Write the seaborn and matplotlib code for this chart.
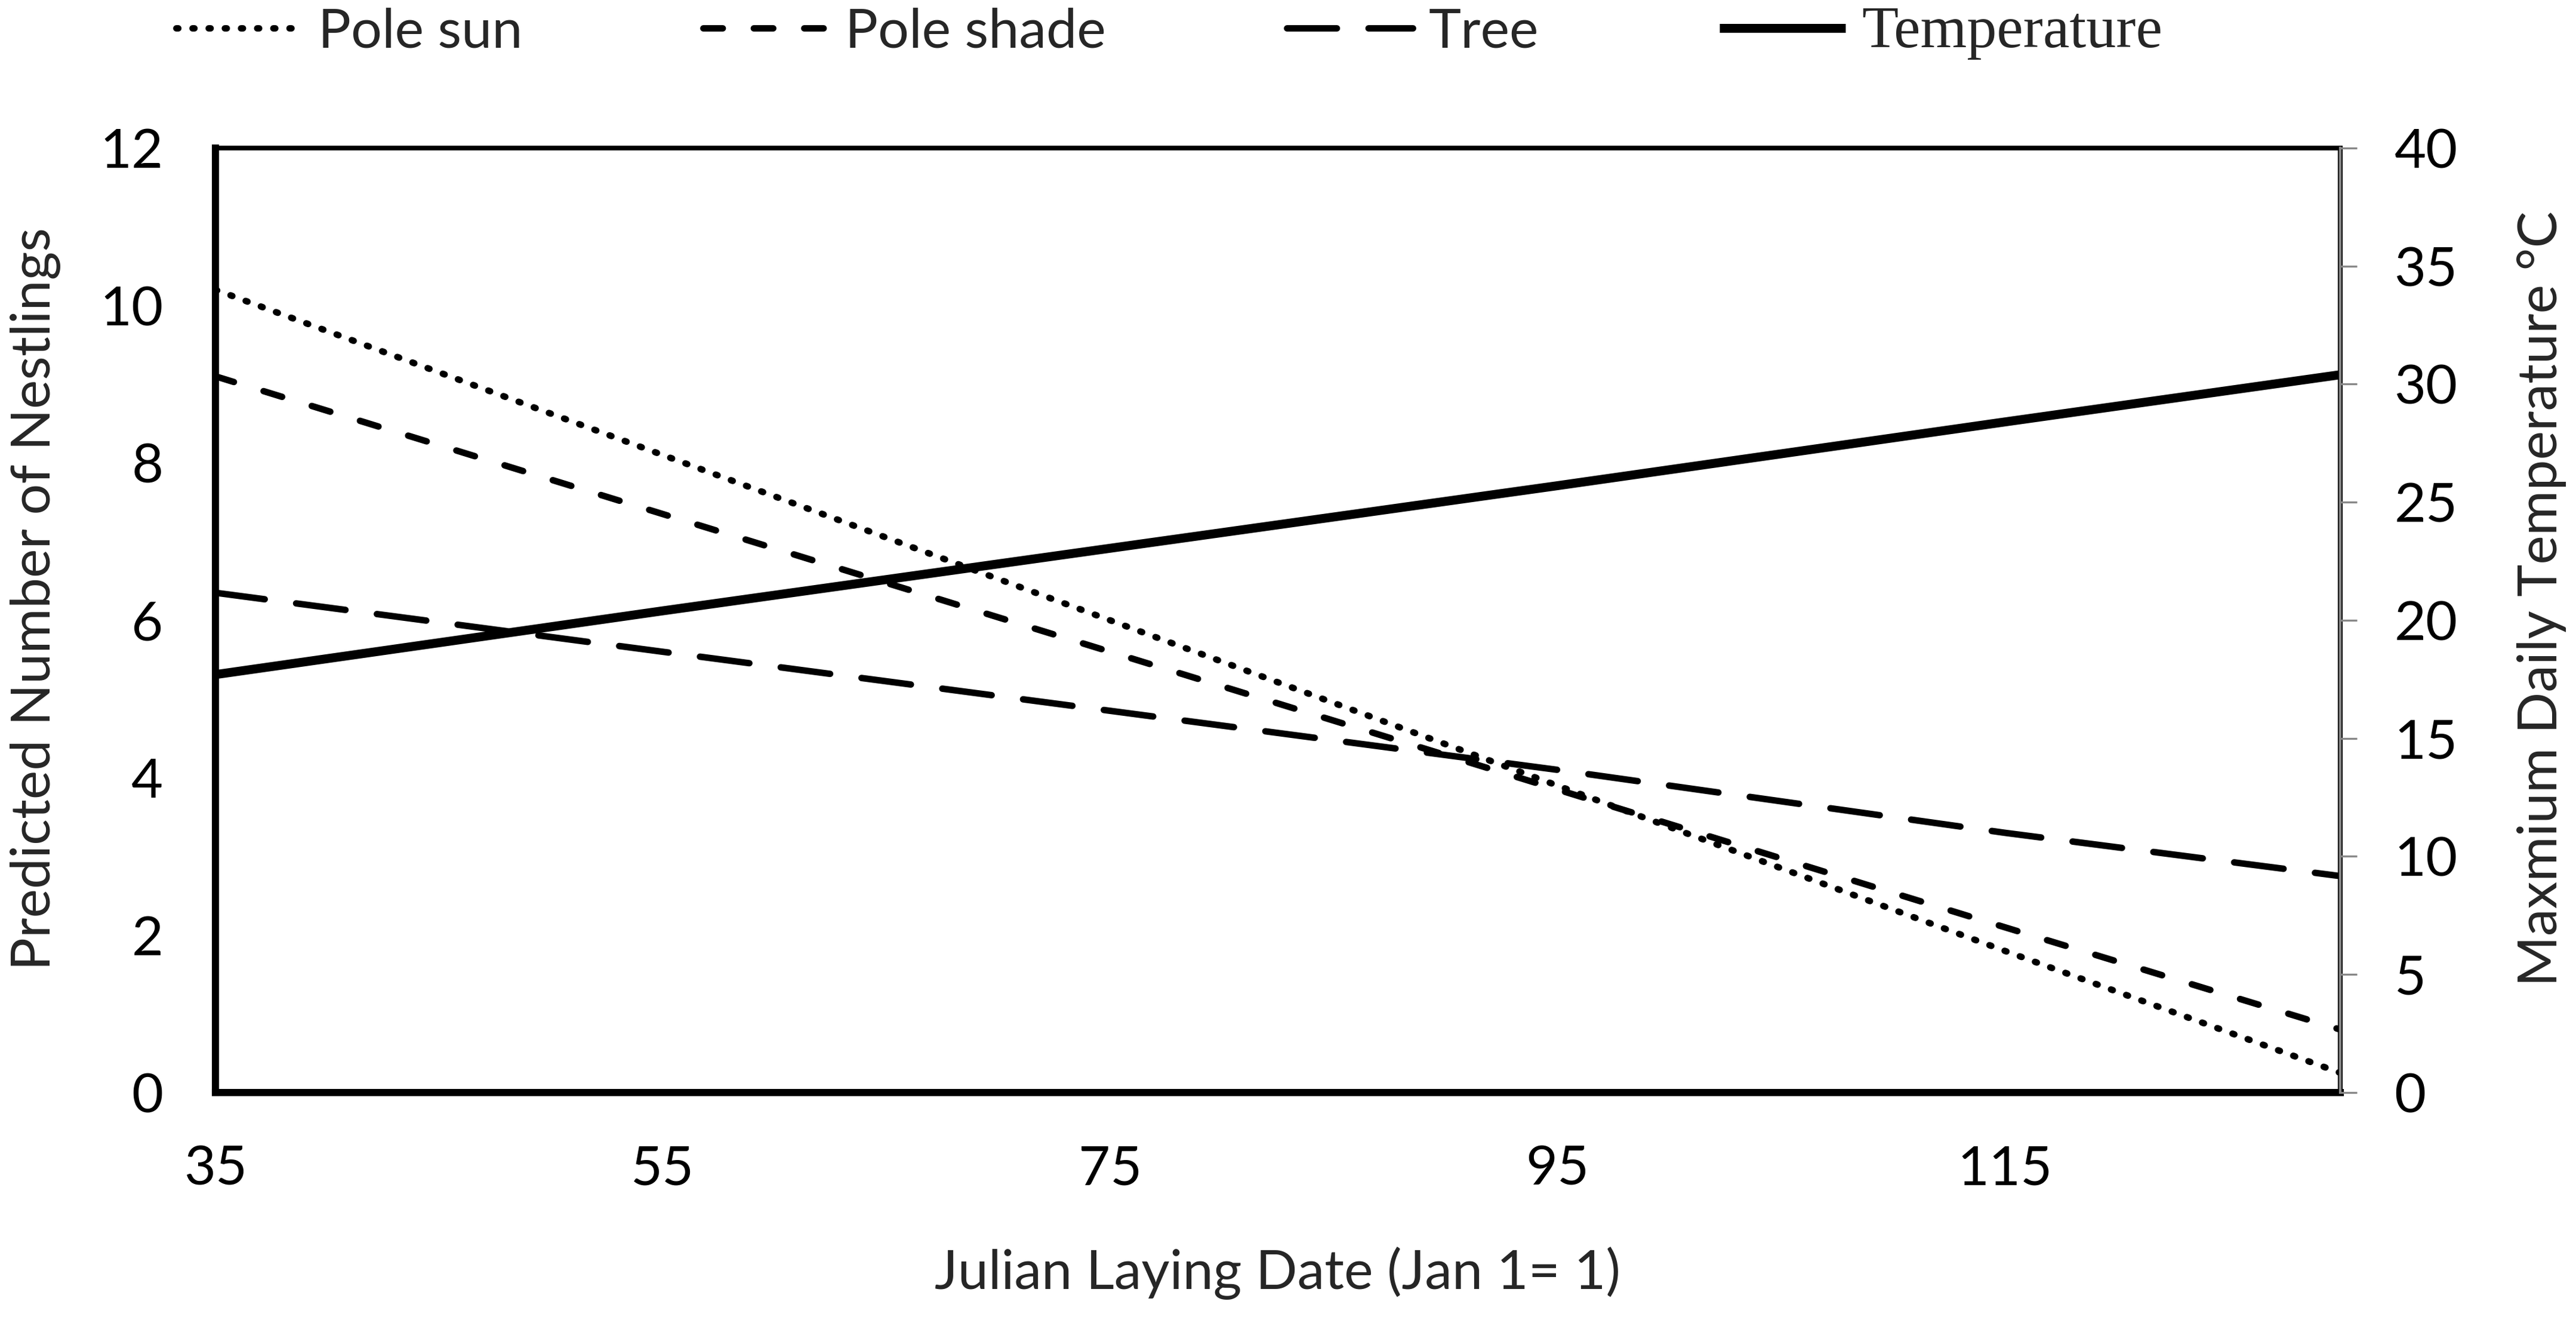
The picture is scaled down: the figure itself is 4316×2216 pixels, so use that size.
import numpy as np
import pandas as pd
import matplotlib
matplotlib.use("Agg")
import matplotlib.pyplot as plt
import seaborn as sns

# 数据
julian_date = [35, 55, 75, 95, 115, 130]
pole_sun = [10.2, 8.1, 6.0, 3.9, 1.8, 0.25]
pole_shade = [9.1, 7.35, 5.6, 3.85, 2.1, 0.8]
tree = [6.35, 5.6, 4.85, 4.1, 3.3, 2.75]
temperature = [17.7, 20.4, 23.05, 25.7, 28.4, 30.4]

x_ticks = [35, 55, 75, 95, 115]
y_ticks_left = [0, 2, 4, 6, 8, 10, 12]
y_ticks_right = [0, 5, 10, 15, 20, 25, 30, 35, 40]

sns.set_theme(style="white")
plt.rcParams['font.family'] = ['Lato', 'DejaVu Sans']

df = pd.DataFrame({'date': julian_date, 'Pole sun': pole_sun,
                   'Pole shade': pole_shade, 'Tree': tree,
                   'Temperature': temperature})

fig = plt.figure(figsize=(4316 / 300, 2216 / 300), dpi=300, facecolor='white')
ax = fig.add_axes([0.0836, 0.1742, 0.8249, 0.7139])
ax2 = ax.twinx()

lw = 2.6
sns.lineplot(data=df, x='date', y='Pole sun', ax=ax, color='black', lw=lw,
             linestyle=(0, (0.3, 2.2)), dash_capstyle='round', label='Pole sun')
sns.lineplot(data=df, x='date', y='Pole shade', ax=ax, color='black', lw=lw,
             linestyle=(0, (3.0, 4.8)), dash_capstyle='round', label='Pole shade')
sns.lineplot(data=df, x='date', y='Tree', ax=ax, color='black', lw=lw,
             linestyle=(0, (7.7, 4.9)), dash_capstyle='round', label='Tree')
sns.lineplot(data=df, x='date', y='Temperature', ax=ax2, color='black', lw=3.6,
             solid_capstyle='butt', label='Temperature')

for a in (ax, ax2):
    if a.get_legend() is not None:
        a.get_legend().remove()

ax.set_xlim(35, 130)
ax.set_ylim(0, 12)
ax2.set_ylim(0, 40)
ax.set_xticks(x_ticks)
ax.set_yticks(y_ticks_left)
ax2.set_yticks(y_ticks_right)

fs = 22
ax.tick_params(axis='both', length=0, labelsize=fs, colors='black')
ax.tick_params(axis='y', pad=21)
ax.tick_params(axis='x', pad=21)
ax2.tick_params(axis='y', length=6.7, width=0.8, color='#888888', labelsize=fs,
                labelcolor='black', pad=15, direction='out')

# 坐标轴边框
ax.spines['left'].set_linewidth(2.9)
ax.spines['bottom'].set_linewidth(2.9)
ax.spines['top'].set_linewidth(1.9)
ax.spines['right'].set_linewidth(1.9)
for s in ax.spines.values():
    s.set_color('black')
for name in ['left', 'bottom', 'top']:
    ax2.spines[name].set_visible(False)
ax2.spines['right'].set_color('#888888')
ax2.spines['right'].set_linewidth(1.0)

ax.set_xlabel('Julian Laying Date (Jan 1= 1)', fontsize=fs)
ax.set_ylabel('Predicted Number of Nestlings', fontsize=fs)
ax2.set_ylabel('Maxmium Daily Temperature °C', fontsize=fs)
ax.xaxis.set_label_coords(0.5, -0.1915)
ax.xaxis.label.set_va('center')
ax.yaxis.set_label_coords(-0.0846, 0.523)
ax.yaxis.label.set_va('center')
ax.yaxis.label.set_ha('center')
ax2.yaxis.set_label_coords(1.0947, 0.523)
ax2.yaxis.label.set_va('center')
ax2.yaxis.label.set_ha('center')

# 图例
h1, l1 = ax.get_legend_handles_labels()
h2, l2 = ax2.get_legend_handles_labels()
leg = fig.legend(h1 + h2, l1 + l2, ncol=4, loc='center left',
                 bbox_to_anchor=(0.0683, 0.975), frameon=False, fontsize=fs,
                 handlelength=2.3, handletextpad=0.3, columnspacing=3.3,
                 borderpad=0, borderaxespad=0)
for t in leg.get_texts():
    if t.get_text() == 'Temperature':
        t.set_fontfamily(['Liberation Serif'])
        t.set_fontsize(24)

fig.savefig('out.png', dpi=300, facecolor='white')
